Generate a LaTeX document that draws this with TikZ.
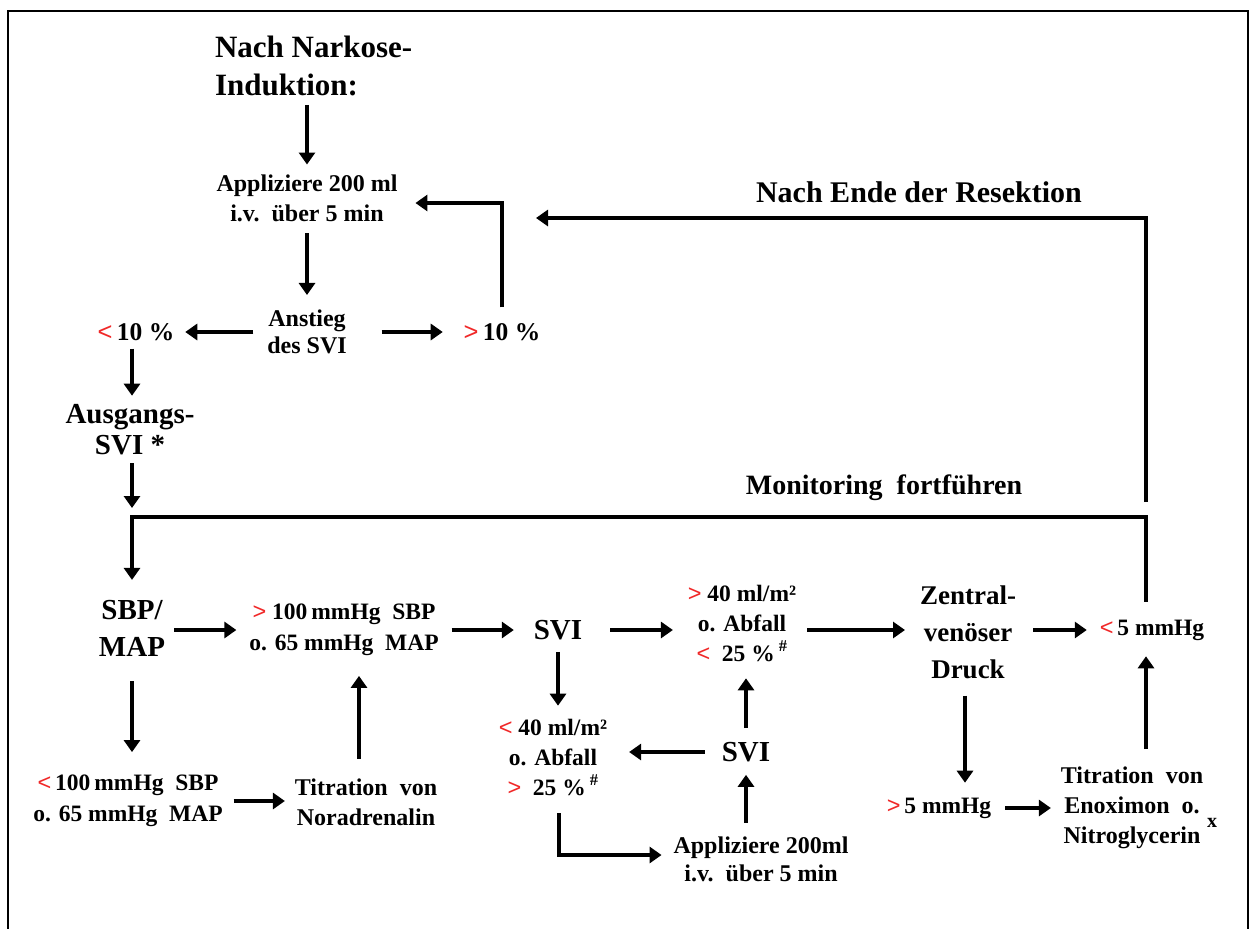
\documentclass[tikz,border=0pt]{standalone}
\usepackage{fontspec}
\setmainfont{Liberation Serif}
\newfontfamily\redsans{Liberation Sans}
\usetikzlibrary{arrows.meta}
\definecolor{lred}{RGB}{240,40,40}
\newcommand\mylt{{\redsans\mdseries\color{lred}<}}
\newcommand\mygt{{\redsans\mdseries\color{lred}>}}
\newcommand\fs[2]{\fontsize{#1}{#2}\selectfont\bfseries}
\tikzset{
  txt/.style={inner sep=0pt, outer sep=0pt, align=center},
  arr/.style={line width=3.4pt, -{Triangle[length=12pt,width=16pt]}},
  ln/.style={line width=3.4pt},
  frame/.style={line width=2.5pt}
}
\begin{document}
\begin{tikzpicture}[x=1pt,y=-1pt]
\useasboundingbox (0,0) rectangle (1253,929);
\draw[frame] (8,929) -- (8,11) -- (1248,11) -- (1248,929);

% coordinates
\coordinate (mL) at (132,517);
\coordinate (mR) at (1146,517);
\coordinate (eB) at (1146,502);
\coordinate (eT) at (1146,218);
\coordinate (eTip) at (536,218);
\coordinate (c1) at (502,203);
\coordinate (c3) at (359,700);
\coordinate (c5) at (559,855);
\coordinate (c6) at (965,740);

% nodes
\node[txt, align=left, anchor=west, font=\fs{31}{38}] (narkose) at (215,66) {Nach Narkose-\\Induktion:};
\node[txt, font=\fs{24}{30}] (appl1) at (307,198) {Appliziere 200 ml\\i.v.\ \ über 5 min};
\node[txt, font=\fs{24}{27}] (anstieg) at (307,332) {Anstieg\\des SVI};
\node[txt, font=\fs{25.5}{28}] (lt10) at (136,332) {\mylt\,10 \%};
\node[txt, font=\fs{25.5}{28}] (gt10) at (502,332) {\mygt\,10 \%};
\node[txt, font=\fs{29}{31}] (ausgang) at (130,430) {Ausgangs-\\SVI *};
\node[txt, font=\fs{30}{32}] (ende) at (919,192) {Nach Ende der Resektion};
\node[txt, font=\fs{28}{32}] (monitor) at (884,488) {Monitoring\ \ fortführen};
\node[txt, font=\fs{29}{37}] (sbp) at (132,628) {SBP/\\MAP};
\node[txt, font=\fs{23.5}{31}] (gt100) at (344,630) {\mygt\ 100\,mmHg\ \ SBP\\o. 65 mmHg\ \ MAP};
\node[txt, font=\fs{29}{32}] (svi1) at (558,630) {SVI};
\node[txt, font=\fs{23.5}{30}] (gt40) at (742,623) {\mygt\ 40 ml/m²\\o. Abfall\\\mylt\ \ 25 \%\,\textsuperscript{\#}};
\node[txt, font=\fs{27}{37}] (zvd) at (968,632) {Zentral-\\venöser\\Druck};
\node[txt, font=\fs{23.5}{30}] (lt5) at (1152,630) {\mylt\,5 mmHg};
\node[txt, font=\fs{23.5}{31}] (lt100) at (128,801) {\mylt\,100\,mmHg\ \ SBP\\o. 65 mmHg\ \ MAP};
\node[txt, font=\fs{24}{30}] (titr1) at (366,802) {Titration\ \ von\\Noradrenalin};
\node[txt, font=\fs{23.5}{30}] (lt40) at (553,757) {\mylt\ 40 ml/m²\\o. Abfall\\\mygt\ \ 25 \%\,\textsuperscript{\#}};
\node[txt, font=\fs{29}{32}] (svi2) at (746,752) {SVI};
\node[txt, font=\fs{24}{28}] (appl2) at (761,859) {Appliziere 200ml\\i.v.\ \ über 5 min};
\node[txt, font=\fs{23.5}{30}] (gt5) at (939,808) {\mygt\,5 mmHg};
\node[txt, font=\fs{24}{30}] (titr2) at (1132,808) {Titration\ \ von\\Enoximon\ \ o.\\Nitroglycerin};
\node[txt, font=\fs{20}{24}] (xmark) at (1212,823) {x};

% connectors
\draw[arr, shorten <=9pt, shorten >=10pt] (narkose.south -| appl1) -- (appl1.north);
\draw[arr, shorten <=12pt, shorten >=15pt] (appl1.south) -- (appl1.south |- anstieg.north);
\draw[arr, shorten <=14pt, shorten >=11pt] (anstieg.west) -- (anstieg.west -| lt10.east);
\draw[arr, shorten <=35pt, shorten >=21pt] (anstieg.east) -- (anstieg.east -| gt10.west);
\draw[arr, shorten <=16pt, shorten >=18pt] (gt10.north -| c1) -- (c1) -- (c1 -| appl1.east);
\draw[arr, shorten <=8pt, shorten >=9pt] (lt10.south -| mL) -- (ausgang.north -| mL);
\draw[arr, shorten <=8pt, shorten >=9pt] (ausgang.south -| mL) -- (mL);
\draw[arr, shorten <=18pt, shorten >=20pt] (mR |- lt5.north) -- (mR) -- (mL) -- (sbp.north -| mL);
\draw[arr] (eB) -- (eT) -- (eTip);
\draw[arr, shorten <=9pt, shorten >=13pt] (sbp.east |- gt100.west) -- (gt100.west);
\draw[arr, shorten <=13pt, shorten >=20pt] (gt100.east) -- (gt100.east -| svi1.west);
\draw[arr, shorten <=28pt, shorten >=15pt] (svi1.east) -- (svi1.east -| gt40.west);
\draw[arr, shorten <=11pt, shorten >=15pt] (svi1.east -| gt40.east) -- (svi1.east -| zvd.west);
\draw[arr, shorten <=17pt, shorten >=13pt] (zvd.east |- lt5.west) -- (lt5.west);
\draw[arr, shorten <=25pt, shorten >=23pt] (sbp.south -| mL) -- (lt100.north -| mL);
\draw[arr, shorten <=11pt, shorten >=10pt] (lt100.east) -- (lt100.east -| titr1.west);
\draw[arr, shorten <=20pt, shorten >=20pt] (titr1.north -| c3) -- (gt100.south -| c3);
\draw[arr, shorten <=12pt, shorten >=13pt] (svi1.south) -- (lt40.north -| svi1);
\draw[arr, shorten <=17pt, shorten >=22pt] (svi2.west) -- (svi2.west -| lt40.east);
\draw[arr, shorten <=14pt, shorten >=17pt] (svi2.north) -- (svi2.north |- gt40.south);
\draw[arr, shorten <=14pt, shorten >=13pt] (appl2.north -| svi2) -- (svi2.south);
\draw[arr, shorten <=18pt, shorten >=12pt] (lt40.south -| c5) -- (c5) -- (c5 -| appl2.west);
\draw[arr, shorten <=17pt, shorten >=15pt] (zvd.south -| c6) -- (gt5.north -| c6);
\draw[arr, shorten <=14pt, shorten >=10pt] (gt5.east) -- (gt5.east -| titr2.west);
\draw[arr, shorten <=18pt, shorten >=16pt] (titr2.north -| mR) -- (lt5.south -| mR);
\end{tikzpicture}
\end{document}
